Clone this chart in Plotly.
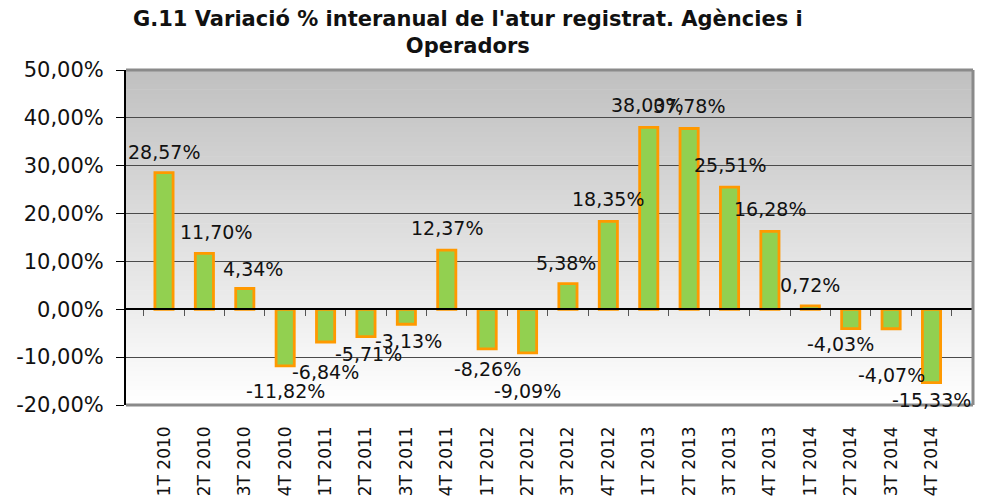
import plotly.graph_objects as go

categories = ["1T 2010", "2T 2010", "3T 2010", "4T 2010",
              "1T 2011", "2T 2011", "3T 2011", "4T 2011",
              "1T 2012", "2T 2012", "3T 2012", "4T 2012",
              "1T 2013", "2T 2013", "3T 2013", "4T 2013",
              "1T 2014", "2T 2014", "3T 2014", "4T 2014"]
values = [28.57, 11.70, 4.34, -11.82,
          -6.84, -5.71, -3.13, 12.37,
          -8.26, -9.09, 5.38, 18.35,
          38.00, 37.78, 25.51, 16.28,
          0.72, -4.03, -4.07, -15.33]
y_tick_vals = [50, 40, 30, 20, 10, 0, -10, -20]
y_tick_text = ["50,00%", "40,00%", "30,00%", "20,00%", "10,00%", "0,00%", "-10,00%", "-20,00%"]
title_lines = ["G.11 Variació % interanual de l'atur registrat. Agències i", "Operadors"]

# label placement offsets (pixels) mimicking the original label positions
label_dx = [0, 12, 8, 0, 0, 3, 2, 0, 0, 0, -2, 0, -2, 0, 0, 0, 0, -10, 0, 0]
label_dy = [21, 21, 20, 25, 30, 17, 17, 22, 20, 38, 21, 22, 22, 22, 22, 22, 21, 15, 46, 17]

FONT = "DejaVu Sans"
W, H = 994, 496
ML, MR, MT, MB = 126, 21, 70, 91

def fmt(v):
    return f"{v:.2f}".replace(".", ",") + "%"

fig = go.Figure()
fig.add_trace(go.Bar(
    x=categories, y=values,
    marker=dict(color="#92D050", line=dict(color="#FF9900", width=2.8)),
    hoverinfo="skip", showlegend=False,
))
# invisible helper trace for the zero-crossing category axis
fig.add_trace(go.Scatter(
    x=categories, y=[0] * len(categories), xaxis="x2", yaxis="y",
    mode="lines", line=dict(width=0), opacity=0, hoverinfo="skip", showlegend=False,
))

annotations = []
for c, v, dx, dy in zip(categories, values, label_dx, label_dy):
    annotations.append(dict(
        x=c, y=v, xref="x", yref="y", text=fmt(v), showarrow=False,
        xshift=dx, yshift=dy if v >= 0 else -dy,
        font=dict(family=FONT, size=19, color="#111111"),
        xanchor="center", yanchor="middle",
    ))
# chart title (paper coords are relative to the plot area)
plot_w = W - ML - MR
plot_h = H - MT - MB
annotations.append(dict(
    x=(468 - ML) / plot_w, y=(H - 5 - MB) / plot_h, xref="paper", yref="paper",
    text="<b>" + "<br>".join(title_lines) + "</b>", showarrow=False,
    xanchor="center", yanchor="top", align="center",
    font=dict(family=FONT, size=21, color="#111111"),
))

# vertical gradient background of the plot area
shapes = []
n = 70
for i in range(n):
    t = (i + 0.5) / n
    g = int(round(192 + (255 - 192) * t))
    col = f"rgb({g},{g},{g})"
    shapes.append(dict(type="rect", xref="x domain", yref="y domain",
                       x0=0, x1=1, y0=1 - i / n, y1=1 - (i + 1) / n - 0.002,
                       fillcolor=col, line=dict(width=0), layer="below"))
# gray frame (top, right, bottom)
for (x0, y0, x1, y1) in [(0, 1, 1, 1), (1, 0, 1, 1), (0, 0, 1, 0)]:
    shapes.append(dict(type="line", xref="x domain", yref="y domain",
                       x0=x0, y0=y0, x1=x1, y1=y1,
                       line=dict(color="#8a8a8a", width=3), layer="above"))

fig.update_layout(
    width=W, height=H,
    margin=dict(l=ML, r=MR, t=MT, b=MB, autoexpand=False),
    paper_bgcolor="white", plot_bgcolor="rgba(0,0,0,0)",
    font=dict(family=FONT, color="#111111"),
    bargap=0.55,
    xaxis=dict(
        categoryorder="array", categoryarray=categories, automargin=False,
        tickangle=-90, showline=False, showgrid=False, zeroline=False,
        ticks="", ticklabelstandoff=17,
        tickfont=dict(family=FONT, size=17, color="#111111"),
    ),
    xaxis2=dict(
        overlaying="x", anchor="free", position=20 / 70, matches="x",
        categoryorder="array", categoryarray=categories, automargin=False,
        showline=True, linecolor="#000000", linewidth=1.5,
        ticks="outside", ticklen=6, tickcolor="#555555", tickwidth=1,
        tickson="boundaries", showticklabels=False, showgrid=False, zeroline=False,
    ),
    yaxis=dict(
        range=[-20, 50], tickvals=y_tick_vals, ticktext=y_tick_text, automargin=False,
        showgrid=True, gridcolor="#4a4a4a", gridwidth=1, zeroline=False,
        showline=True, linecolor="#000000", linewidth=2,
        ticks="outside", ticklen=8, tickcolor="#000000",
        tickfont=dict(family=FONT, size=21, color="#111111"),
        ticklabelstandoff=8,
    ),
    annotations=annotations,
    shapes=shapes,
)

fig.write_html("out.html", config={"displayModeBar": False},
               post_script="document.body.style.margin='0';document.body.style.overflow='hidden';")
